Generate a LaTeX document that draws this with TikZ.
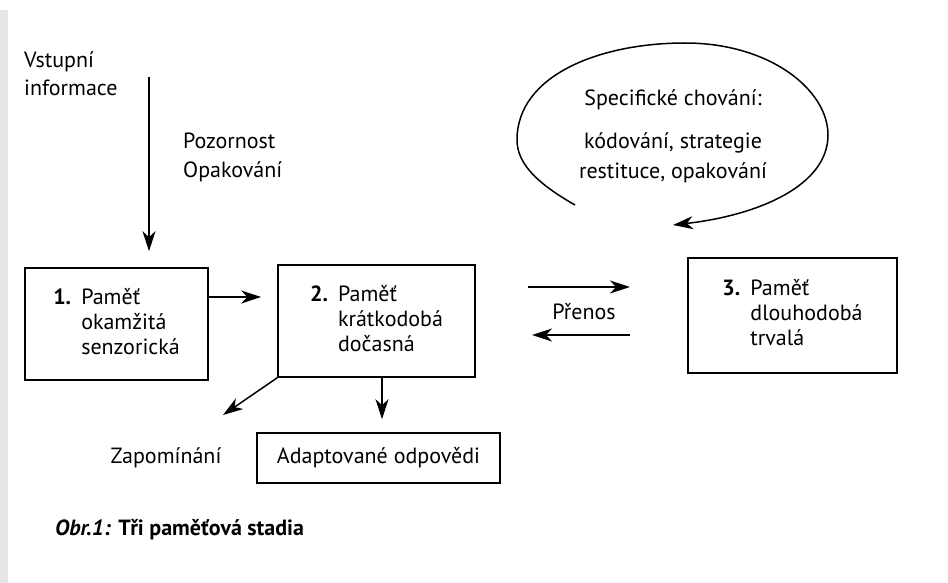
\documentclass[tikz,border=0pt]{standalone}
\usepackage{fontspec}
\setmainfont{PT Sans}
\usetikzlibrary{arrows.meta, positioning, calc}

\newcommand{\stagetext}[2]{\makebox[28pt][l]{\textbf{#1}}\begin{tabular}[t]{@{}l@{}}#2\end{tabular}}

\tikzset{
  membox/.style={draw, line width=1.6pt, inner sep=0pt, font=\fontsize{22pt}{25pt}\selectfont},
  plaintext/.style={inner sep=0pt, align=left, font=\fontsize{22pt}{28pt}\selectfont},
  arr/.style={-{Stealth[length=20pt, width=13pt, inset=6pt]}, line width=1.5pt},
}

\begin{document}
\begin{tikzpicture}[x=1pt, y=-1pt]
  \useasboundingbox (0,0) rectangle (948,583);
  \fill[white] (0,0) rectangle (948,583);
  \fill[black!10] (0,10) rectangle (8,583);

  \node[membox, minimum width=183pt, minimum height=112pt] (box1) at (116.5,324)
    {\stagetext{1.}{Paměť\\okamžitá\\senzorická}};
  \node[membox, minimum width=197pt, minimum height=112pt] (box2) at (376.5,321)
    {\stagetext{2.}{Paměť\\krátkodobá\\dočasná}};
  \node[membox, minimum width=209pt, minimum height=115pt] (box3) at (792.5,315.5)
    {\stagetext{3.}{Paměť\\dlouhodobá\\trvalá}};
  \node[membox, minimum width=243pt, minimum height=50pt] (adapt) at (378.5,458)
    {Adaptované odpovědi};

  \node[plaintext, anchor=west] (input) at (24,73.5) {Vstupní\\informace};
  \node[plaintext, anchor=west, font=\fontsize{22pt}{29pt}\selectfont] (attention) at (183,157.5) {Pozornost\\Opakování};
  \node[plaintext] (forget) at (166,458) {Zapomínání};
  \node[plaintext] (transfer) at (584,312) {Přenos};
  \node[plaintext, align=center, font=\fontsize{22pt}{30pt}\selectfont] (loopText) at (673,136)
    {Specifické chování:\\[13pt]kódování, strategie\\restituce, opakování};
  \node[plaintext, anchor=west] (caption) at (55,530) {\bfseries\itshape Obr.1:\upshape{} Tři paměťová stadia};

  \coordinate (intop) at (149,77);
  \coordinate (fg) at (223,415);
  \coordinate (trA) at (528,287);
  \coordinate (trB) at (630,287);
  \coordinate (trC) at (630,335);
  \coordinate (trD) at (532,335);
  \coordinate (loopStart) at (575,205);
  \coordinate (loopEnd) at (673,225);

  \draw[arr, shorten >=16pt] (intop) -- (intop |- box1.north);
  \draw[arr] ([yshift=27pt]box1.east) -- ([xshift=-16pt,yshift=24pt]box2.west);
  \draw[arr] (trA) -- (trB);
  \draw[arr] (trC) -- (trD);
  \draw[arr] (box2.south west) -- (fg);
  \draw[arr, shorten >=13pt] ([xshift=5.5pt]box2.south) -- ([xshift=5.5pt]box2.south |- adapt.north);

  \draw[arr] (loopStart) .. controls (540,185) and (517,165) .. (517,140)
    .. controls (517,75) and (600,43) .. (685,43)
    .. controls (770,43) and (828,90) .. (828,135)
    .. controls (828,185) and (760,215) .. (loopEnd);
\end{tikzpicture}
\end{document}
